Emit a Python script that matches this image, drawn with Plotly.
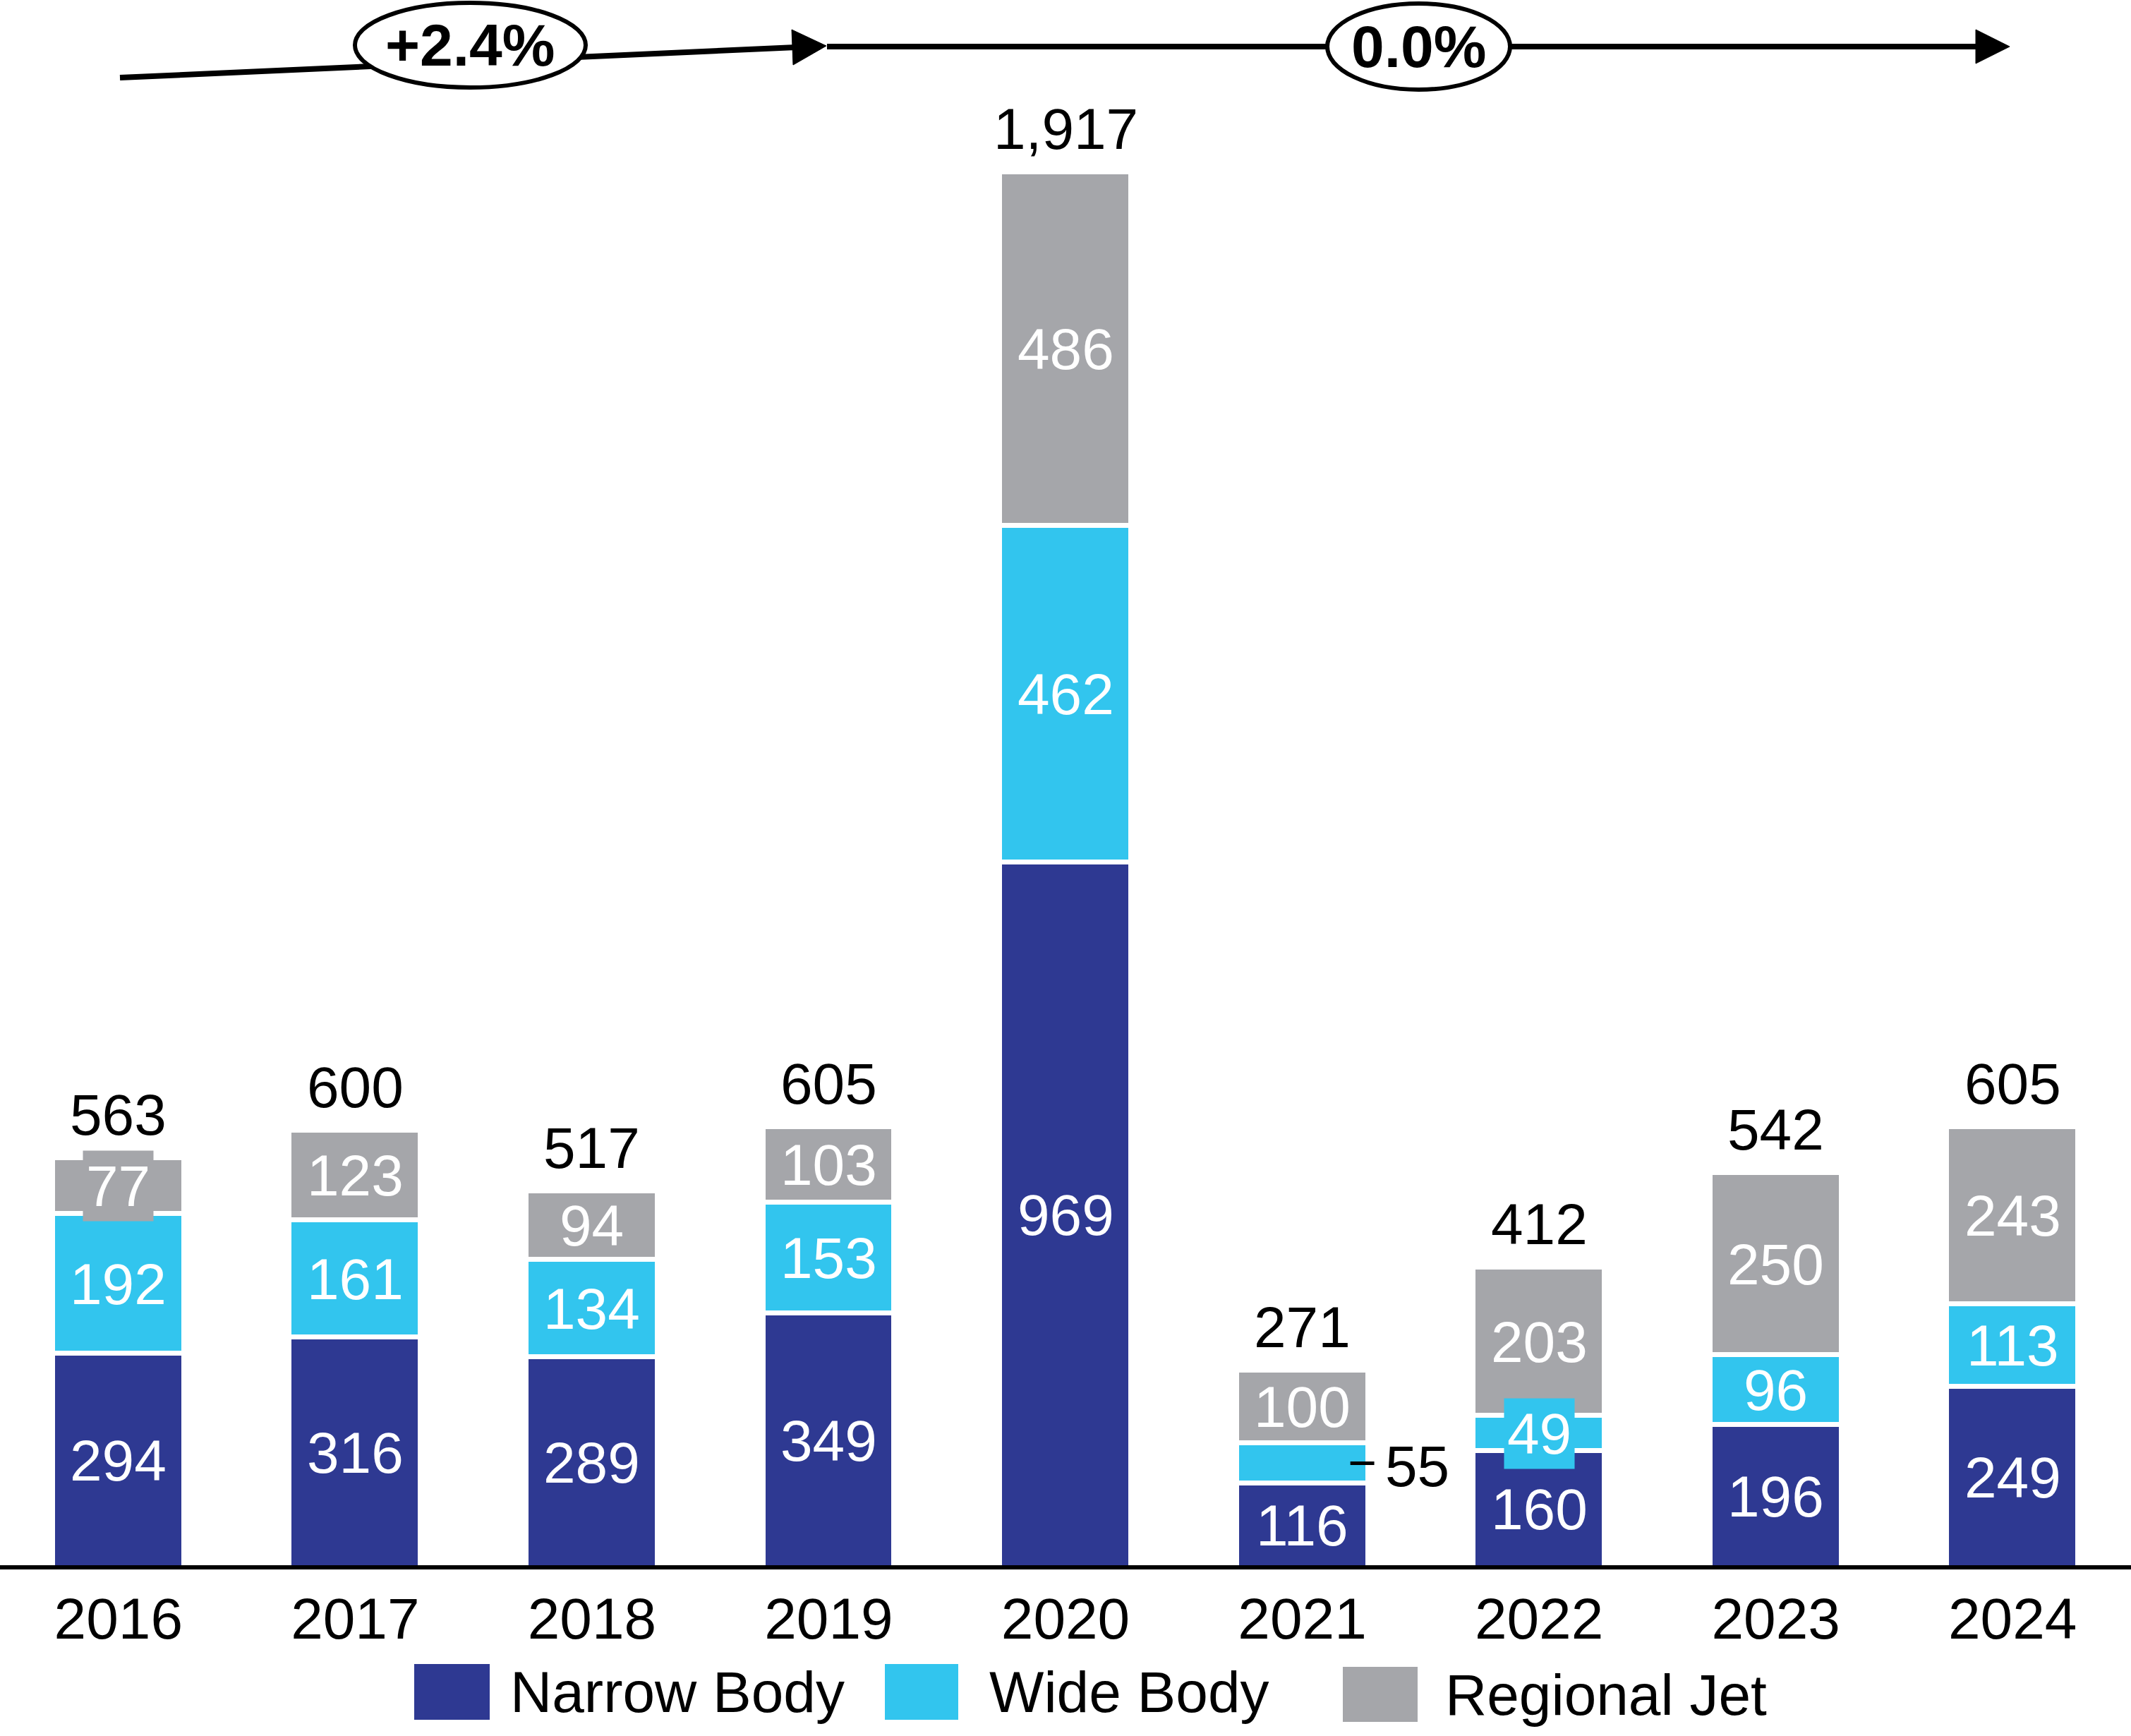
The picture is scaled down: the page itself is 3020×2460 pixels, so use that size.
import plotly.graph_objects as go

# ---------------- data ----------------
years = ["2016", "2017", "2018", "2019", "2020", "2021", "2022", "2023", "2024"]
narrow_body = [294, 316, 289, 349, 969, 116, 160, 196, 249]
wide_body = [192, 161, 134, 153, 462, 55, 49, 96, 113]
regional_jet = [77, 123, 94, 103, 486, 100, 203, 250, 243]
totals = [563, 600, 517, 605, 1917, 271, 412, 542, 605]
series_names = ["Narrow Body", "Wide Body", "Regional Jet"]
cagr_labels = ["+2.4%", "0.0%"]

# ---------------- style ----------------
W, H = 3020, 2460
PLOT_BOTTOM = 2218          # pixel row of plot bottom
FONT = "Liberation Sans, Arial, sans-serif"
FS = 82
colors = ["#2E3992", "#32C5EE", "#A5A6AA"]
series = [narrow_body, wide_body, regional_jet]

fig = go.Figure()
for name, vals, col in zip(series_names, series, colors):
    fig.add_trace(go.Bar(
        x=years, y=vals, name=name, width=0.554,
        marker=dict(color=col, line=dict(color="white", width=7)),
        showlegend=False, hoverinfo="skip",
    ))

def px(x):
    return x / W

def py(y):
    return (PLOT_BOTTOM - y) / PLOT_BOTTOM

annotations = []
shapes = []

# totals above bars
for yi, t in enumerate(totals):
    annotations.append(dict(
        x=yi, y=t, xref="x", yref="y", text=f"{t:,}", showarrow=False,
        yanchor="bottom", yshift=14, font=dict(family=FONT, size=FS, color="black"),
    ))

# segment labels
boxed = {(2, 0), (1, 6)}      # (series index, year index) labels with a filled box
outside = {(1, 5)}            # labels placed to the right with a leader line
for si, vals in enumerate(series):
    for yi, v in enumerate(vals):
        base = sum(series[k][yi] for k in range(si))
        mid = base + v / 2
        if (si, yi) in outside:
            annotations.append(dict(
                x=yi, y=mid, xref="x", yref="y", text=f"{v}", showarrow=False,
                xanchor="left", yanchor="middle", xshift=115, yshift=-4,
                font=dict(family=FONT, size=FS, color="black"),
            ))
            shapes.append(dict(type="line", xref="x", yref="y",
                               x0=yi + 0.203, x1=yi + 0.304, y0=mid, y1=mid,
                               line=dict(color="black", width=5)))
            continue
        ann = dict(
            x=yi, y=mid, xref="x", yref="y", text=f"{v}", showarrow=False,
            yanchor="middle", font=dict(family=FONT, size=FS, color="white"),
        )
        if (si, yi) in boxed:
            ann.update(bgcolor=colors[si], borderpad=4)
        annotations.append(ann)

# CAGR arrows (pixel geometry converted to paper coordinates)
shapes.append(dict(type="line", xref="paper", yref="paper",
                   x0=px(170), y0=py(110), x1=px(1128), y1=py(67),
                   line=dict(color="black", width=8)))
shapes.append(dict(type="path", xref="paper", yref="paper",
                   path=f"M {px(1171)},{py(65)} L {px(1122)},{py(42)} L {px(1124)},{py(92)} Z",
                   fillcolor="black", line=dict(color="black", width=1)))
shapes.append(dict(type="line", xref="paper", yref="paper",
                   x0=px(1172), y0=py(66), x1=px(2805), y1=py(66),
                   line=dict(color="black", width=8)))
shapes.append(dict(type="path", xref="paper", yref="paper",
                   path=f"M {px(2848)},{py(66)} L {px(2800)},{py(42)} L {px(2800)},{py(90)} Z",
                   fillcolor="black", line=dict(color="black", width=1)))
for (x0, x1, y0, y1), lab in zip([(503, 830, 4, 124), (1881, 2140, 5, 127)], cagr_labels):
    shapes.append(dict(type="circle", xref="paper", yref="paper",
                       x0=px(x0), x1=px(x1), y0=py(y1), y1=py(y0),
                       fillcolor="white", line=dict(color="black", width=6)))
    annotations.append(dict(x=px((x0 + x1) / 2), y=py((y0 + y1) / 2), xref="paper", yref="paper",
                            text=f"<b>{lab}</b>", showarrow=False, xanchor="center", yanchor="middle",
                            yshift=0, font=dict(family=FONT, size=84, color="black")))

# custom legend
legend_items = [
    (587, 694, 2358, 2437, 721),
    (1254, 1358, 2358, 2437, 1400),
    (1903, 2009, 2362, 2440, 2046),
]
for (x0, x1, y0, y1, tx), name, col in zip(legend_items, series_names, colors):
    shapes.append(dict(type="rect", xref="paper", yref="paper",
                       x0=px(x0), x1=px(x1), y0=py(y1), y1=py(y0),
                       fillcolor=col, line=dict(width=0)))
    annotations.append(dict(x=px(tx), y=py((y0 + y1) / 2), xref="paper", yref="paper",
                            text=name, showarrow=False, xanchor="left", yanchor="middle",
                            font=dict(family=FONT, size=FS, color="black")))

k = (PLOT_BOTTOM + 3.5 - 247 + 3.5) / 1917
fig.update_layout(
    width=W, height=H, barmode="stack", bargap=0,
    margin=dict(l=0, r=0, t=0, b=H - PLOT_BOTTOM),
    paper_bgcolor="white", plot_bgcolor="white",
    font=dict(family=FONT, size=FS, color="black"),
    xaxis=dict(type="category", range=[-0.5, 8.5], showline=True, linecolor="black",
               linewidth=6, ticks="", showgrid=False, zeroline=False,
               tickfont=dict(family=FONT, size=FS, color="black")),
    yaxis=dict(range=[3.5 / k, (PLOT_BOTTOM + 3.5) / k], visible=False, showgrid=False,
               zeroline=False),
    annotations=annotations, shapes=shapes,
)
fig.write_html("out.html", config={"displayModeBar": False},
               post_script="document.body.style.margin='0px';document.body.style.overflow='hidden';")
